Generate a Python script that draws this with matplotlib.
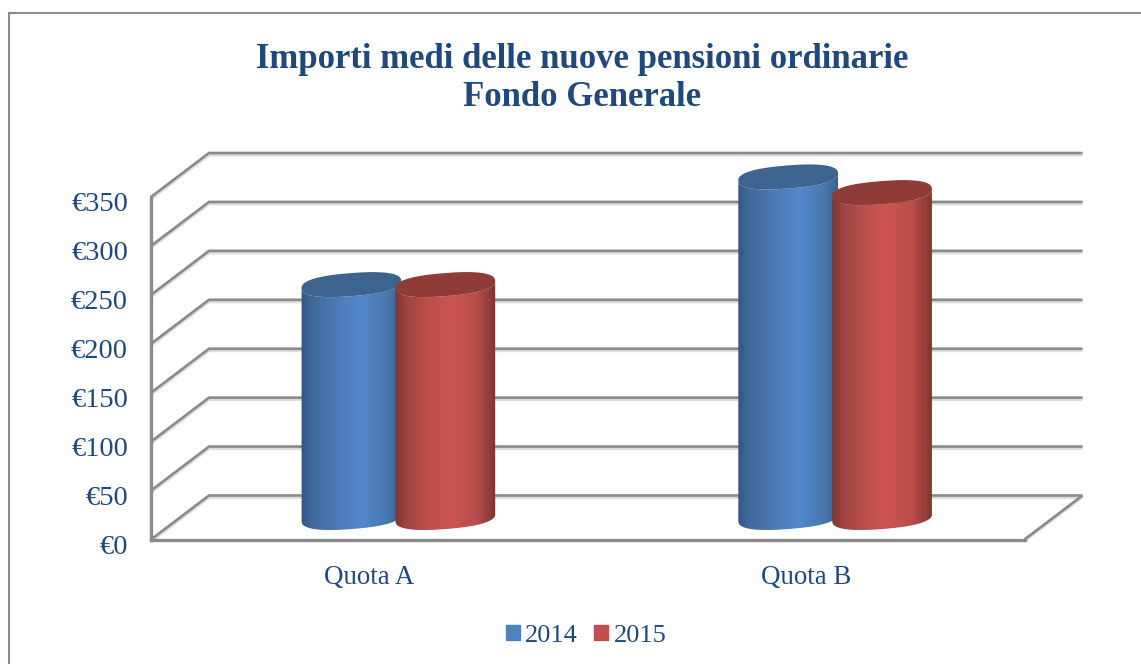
import numpy as np
import matplotlib
matplotlib.use("Agg")
import matplotlib.pyplot as plt
from matplotlib.colors import LinearSegmentedColormap
from matplotlib.patches import PathPatch, Patch, Rectangle
from matplotlib.path import Path
from matplotlib.transforms import IdentityTransform, ScaledTranslation

categories = ["Quota A", "Quota B"]
years = ["2014", "2015"]
values_2014 = [238, 348]
values_2015 = [238, 332]
y_ticks = [0, 50, 100, 150, 200, 250, 300, 350]
y_labels = ["€0", "€50", "€100", "€150", "€200", "€250", "€300", "€350"]
title_lines = "Importi medi delle nuove pensioni ordinarie\nFondo Generale"

W, H = 1141, 664
TXT = "#1F497D"
GRID = "#8A8A8A"
SHADOW = "#DCDCDC"
DX, DY = 58.0, 44.0
BAR_STEP = 0.215
A, B, THETA = 50.0, 11.5, np.deg2rad(4.5)
P = 0.82

plt.rcParams["font.family"] = ["Liberation Serif", "DejaVu Serif"]
fig = plt.figure(figsize=(W / 100, H / 100), dpi=100, facecolor="white")
ax = fig.add_axes([151 / W, (H - 539.5) / H, 873.5 / W, 342.5 / H])
ax.set_xlim(0, 2)
ax.set_ylim(0, 350)
ax.autoscale(False)
ax.patch.set_alpha(0)

# outer frame
fig.add_artist(Rectangle((9 / W, -0.1), 1.2, (H - 13) / H + 0.1, transform=fig.transFigure,
                         fill=False, edgecolor="#8C8C8C", lw=1.5))


def px(x, v, depth=0.0):
    p = ax.transData.transform((x, v))
    return p[0] + DX * depth, p[1] + DY * depth


def line(pts, color, lw, z=1, dy=0.0):
    xs = [p[0] for p in pts]
    ys = [p[1] + dy for p in pts]
    ax.plot(xs, ys, color=color, lw=lw, transform=IdentityTransform(), clip_on=False,
            solid_capstyle="butt", solid_joinstyle="miter", zorder=z)


# walls and floor
for v in y_ticks:
    pts = [px(0, v), px(0, v, 1), px(2, v, 1)]
    line(pts, SHADOW, 1.8, z=1, dy=-2.2)
    line(pts, GRID, 1.9, z=1.1)
line([px(2, 0), px(2, 0, 1)], GRID, 1.9, z=1.1)
line([px(2, 0), px(2, 0, 1)], SHADOW, 1.6, z=1, dy=-2)

for side in ("top", "right"):
    ax.spines[side].set_visible(False)
for side in ("left", "bottom"):
    ax.spines[side].set_color(GRID)
    ax.spines[side].set_linewidth(2.4)
    ax.spines[side].set_zorder(1.2)

ax.set_yticks(y_ticks, y_labels, fontsize=20.5, color=TXT)
ax.set_xticks([0.5, 1.5], categories, fontsize=19.4, color=TXT)
ax.tick_params(axis="y", length=0, pad=16.5)
ax.tick_params(axis="x", length=0, pad=18)
shift = ScaledTranslation(0, -3.5 / 72, fig.dpi_scale_trans)
for lab in ax.get_yticklabels():
    lab.set_verticalalignment("center_baseline")
    lab.set_transform(lab.get_transform() + shift)


def ring(c, t):
    ux, uy = np.cos(THETA), np.sin(THETA)
    vx, vy = -np.sin(THETA), np.cos(THETA)
    cs = np.sign(np.cos(t)) * np.abs(np.cos(t)) ** P
    sn = np.sign(np.sin(t)) * np.abs(np.sin(t)) ** P
    return np.column_stack([c[0] + A * cs * ux + B * sn * vx,
                            c[1] + A * cs * uy + B * sn * vy])


def cylinder(xc, value, stops, top_color, z):
    base = px(xc, 0, 0.5)
    top = px(xc, value, 0.5)
    t = np.linspace(np.pi, 2 * np.pi, 60)
    verts = np.vstack([ring(base, t), ring(top, t[::-1])])
    codes = [Path.MOVETO] + [Path.LINETO] * (len(verts) - 1)
    clip = PathPatch(Path(verts, codes), transform=IdentityTransform(), fc="none", ec="none")
    ax.add_patch(clip)
    cmap = LinearSegmentedColormap.from_list("c", stops)
    grad = np.linspace(0, 1, 256).reshape(1, -1)
    im = ax.imshow(grad, cmap=cmap, aspect="auto", interpolation="bilinear", zorder=z,
                   extent=[base[0] - A - 1, base[0] + A + 1, base[1] - 20, top[1] + 20],
                   transform=IdentityTransform())
    im.set_clip_box(fig.bbox)
    im.set_clip_path(clip)
    cap_t = np.linspace(0, 2 * np.pi, 160)
    ax.fill(*ring(top, cap_t).T, color=top_color, lw=0, transform=IdentityTransform(),
            clip_on=False, zorder=z + 0.01)


blue = [(0, "#2F5680"), (0.12, "#41699B"), (0.35, "#4C7AB5"), (0.6, "#5288CB"),
        (0.85, "#4A78AE"), (1, "#37608F")]
red = [(0, "#7D3331"), (0.12, "#9E4341"), (0.35, "#BE504E"), (0.55, "#CC5452"),
       (0.8, "#B94E4C"), (1, "#7E3432")]
for i in range(len(categories)):
    cylinder(i + 0.5 - BAR_STEP / 2, values_2014[i], blue, "#3D648F", 3 + i)
    cylinder(i + 0.5 + BAR_STEP / 2, values_2015[i], red, "#8F3B37", 3.5 + i)

ax.set_xlim(0, 2)
ax.set_ylim(0, 350)

fig.text(582 / W, 1 - 78.5 / H, title_lines, ha="center", va="center", fontsize=25,
         fontweight="bold", color=TXT, linespacing=1.21)

handles = [Patch(color="#4F81BD", label=years[0]), Patch(color="#C0504D", label=years[1])]
fig.legend(handles=handles, loc="center", bbox_to_anchor=(586 / W, 1 - 636 / H), ncol=2,
           frameon=False, fontsize=19, labelcolor=TXT, handlelength=0.53, handleheight=0.53,
           handletextpad=0.2, columnspacing=0.62, borderpad=0)

fig.savefig("out.png", dpi=100, facecolor="white")
